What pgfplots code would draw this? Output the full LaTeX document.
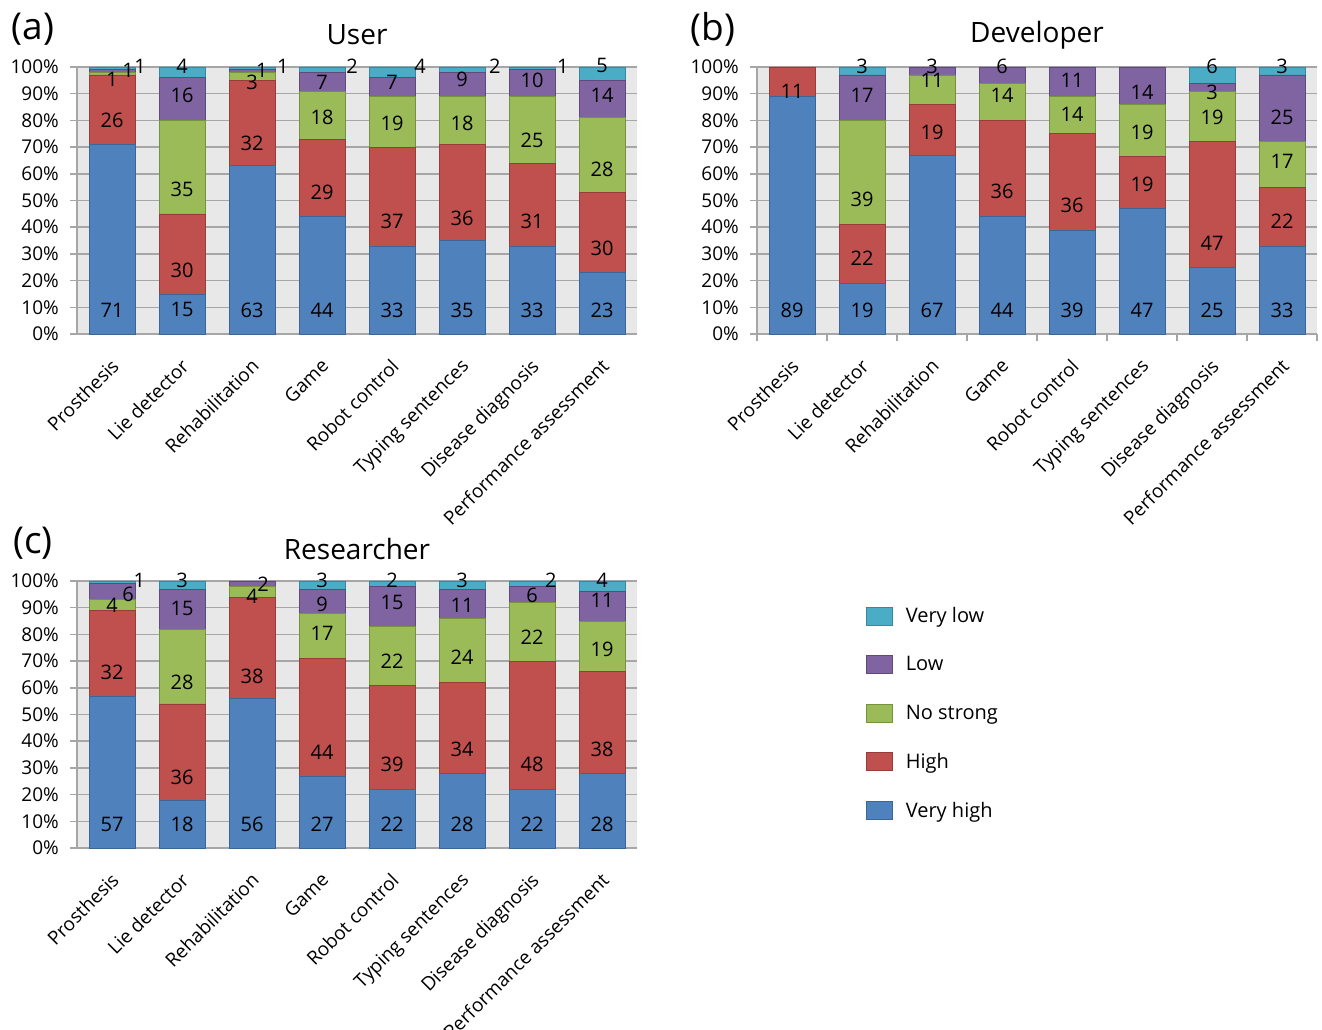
\documentclass[border=0pt]{standalone}
\usepackage{pgfplots}
\pgfplotsset{compat=1.18}
\usepackage{fontspec}
\setmainfont{Open Sans}
\definecolor{cblue}{HTML}{4F81BD}
\definecolor{cblueD}{HTML}{3A6594}
\definecolor{cred}{HTML}{C0504D}
\definecolor{credD}{HTML}{963C3A}
\definecolor{cgreen}{HTML}{9BBB59}
\definecolor{cgreenD}{HTML}{76923C}
\definecolor{cpurple}{HTML}{8064A2}
\definecolor{cpurpleD}{HTML}{5F4A7A}
\definecolor{cteal}{HTML}{4BACC6}
\definecolor{ctealD}{HTML}{3787A0}
\definecolor{bgc}{HTML}{E8E8E8}
\definecolor{gridc}{HTML}{A6A6A6}

\pgfplotstableread{
x y t
0 9 71
0 80.1 26
0 95.5 1
0.23 98.9 1
0.4 100.4 1
1 9 15
1 24 30
1 54 35
1 89.5 16
1 100.4 4
2 9 63
2 71.5 32
2 94.4 3
2.14 98.9 1
2.44 100.4 1
3 9 44
3 53.2 29
3 81.3 18
3 94.4 7
3.43 100.4 2
4 9 33
4 42 37
4 79 19
4 94.4 7
4.4 100.4 4
5 9 35
5 43.4 36
5 79 18
5 95.5 9
5.47 100.4 2
6 9 33
6 42 31
6 72.7 25
6 95.1 10
6.44 100.4 1
7 9 23
7 32.2 30
7 61.8 28
7 89.5 14
7 100.4 5
}\labA
\pgfplotstableread{
x y t
0 9 89
0 91 11
1 9 19
1 28.5 22
1 50.6 39
1 89.5 17
1 100.4 3
2 9 67
2 75.7 19
2 95.1 11
2 100.4 3
3 9 44
3 53.6 36
3 89.5 14
3 100.4 6
4 9 39
4 48 36
4 82.4 14
4 95.1 11
5 9 47
5 56.2 19
5 75.7 19
5 90.6 14
6 9 25
6 34 47
6 81 19
6 90.6 3
6 100.4 6
7 9 33
7 42.3 22
7 64.8 17
7 81.3 25
7 100.4 3
}\labB
\pgfplotstableread{
x y t
0 9 57
0 65.9 32
0 91 4
0.23 95.1 6
0.39 100.4 1
1 9 18
1 26.6 36
1 62.2 28
1 89.9 15
1 100.4 3
2 9 56
2 64.4 38
2 94.4 4
2.16 98.9 2
3 9 27
3 36 44
3 80.3 17
3 91.4 9
3 100.4 3
4 9 22
4 31.5 39
4 70 22
4 92 15
4 100.4 2
5 9 28
5 37 34
5 71.5 24
5 91 11
5 100.4 3
6 9 22
6 31.5 48
6 79 22
6 94.8 6
6.27 100.4 2
7 9 28
7 37 38
7 74.5 19
7 92.9 11
7 100.4 4
}\labC

\pgfplotsset{
  panel/.style={
    anchor=south west, width=560pt, height=267pt, scale only axis,
    xmin=-0.5, xmax=7.5, ymin=0, ymax=100, clip=false,
  },
  barpanel/.style={
    panel, ybar stacked, bar width=46pt,
    axis background/.style={fill=bgc},
    axis x line*=bottom, axis y line*=left,
    axis line style={gridc, line width=1.5pt},
    ytick={0,10,...,100},
    yticklabel={\pgfmathprintnumber{\tick}\%},
    /pgf/number format/assume math mode=true,
    ymajorgrids, grid style={gridc, line width=1.5pt},
    tick align=outside, major tick length=7pt,
    ytick style={gridc, line width=1.5pt},
    xtick={0,...,7},
    xticklabels={Prosthesis, Lie detector, Rehabilitation, Game, Robot control, Typing sentences, Disease diagnosis, Performance assessment},
    xtick style={draw=none},
    x tick label style={rotate=45, anchor=north east, font=\fontsize{19}{22}\selectfont, inner sep=0pt, xshift=-13pt, yshift=-10pt},
    y tick label style={font=\fontsize{19}{22}\selectfont, inner sep=0pt, xshift=-11pt},
  },
  labpanel/.style={
    panel, hide axis,
    nodes near coords, point meta=explicit symbolic,
    nodes near coords style={anchor=center, inner sep=0pt, font=\fontsize{20}{22}\selectfont},
  },
  pblue/.style={fill=cblue, draw=cblueD, line width=0.6pt},
  pred/.style={fill=cred, draw=credD, line width=0.6pt},
  pgreen/.style={fill=cgreen, draw=cgreenD, line width=0.6pt},
  ppurple/.style={fill=cpurple, draw=cpurpleD, line width=0.6pt},
  pteal/.style={fill=cteal, draw=ctealD, line width=0.6pt},
}

\begin{document}
\begin{tikzpicture}
\useasboundingbox (0,0) rectangle (1322pt,1030pt);

% ---------------- (a) User
\begin{axis}[barpanel, at={(77pt,696pt)}]
\addplot[pblue] coordinates {(0,71) (1,15) (2,63) (3,44) (4,33) (5,35) (6,33) (7,23)};
\addplot[pred] coordinates {(0,26) (1,30) (2,32) (3,29) (4,37) (5,36) (6,31) (7,30)};
\addplot[pgreen] coordinates {(0,1) (1,35) (2,3) (3,18) (4,19) (5,18) (6,25) (7,28)};
\addplot[ppurple] coordinates {(0,1) (1,16) (2,1) (3,7) (4,7) (5,9) (6,10) (7,14)};
\addplot[pteal] coordinates {(0,1) (1,4) (2,1) (3,2) (4,4) (5,2) (6,1) (7,5)};
\end{axis}
\begin{axis}[labpanel, at={(77pt,696pt)}]
\addplot[draw=none, mark=none] table[x=x, y=y, meta=t] {\labA};
\end{axis}

% ---------------- (b) Developer
\begin{axis}[barpanel, at={(757pt,696pt)},
  extra x ticks={-0.5,0.5,...,7.5}, extra x tick labels={},
  extra x tick style={xtick style={draw=gridc, line width=1.5pt}}]
\addplot[pblue] coordinates {(0,89) (1,19) (2,67) (3,44) (4,39) (5,47) (6,25) (7,33)};
\addplot[pred] coordinates {(0,11) (1,22) (2,19) (3,36) (4,36) (5,19.5) (6,47) (7,22)};
\addplot[pgreen] coordinates {(0,0) (1,39) (2,11) (3,14) (4,14) (5,19.5) (6,19) (7,17)};
\addplot[ppurple] coordinates {(0,0) (1,17) (2,3) (3,6) (4,11) (5,14) (6,3) (7,25)};
\addplot[pteal] coordinates {(0,0) (1,3) (2,0) (3,0) (4,0) (5,0) (6,6) (7,3)};
\end{axis}
\begin{axis}[labpanel, at={(757pt,696pt)}]
\addplot[draw=none, mark=none] table[x=x, y=y, meta=t] {\labB};
\end{axis}

% ---------------- (c) Researcher
\begin{axis}[barpanel, at={(77pt,182pt)},
  legend style={at={(axis description cs:1.409,0.905)}, anchor=north west, draw=none, fill=none,
    font=\fontsize{20}{22}\selectfont, row sep=30pt, inner sep=0pt,
    nodes={inner sep=0pt, anchor=west},
    /tikz/every odd column/.append style={column sep=13pt}},
  legend image code/.code={\draw[#1] (0pt,-9pt) rectangle (26pt,9pt);},
  reverse legend, legend cell align=left]
\addplot[pblue] coordinates {(0,57) (1,18) (2,56) (3,27) (4,22) (5,28) (6,22) (7,28)};
\addplot[pred] coordinates {(0,32) (1,36) (2,38) (3,44) (4,39) (5,34) (6,48) (7,38)};
\addplot[pgreen] coordinates {(0,4) (1,28) (2,4) (3,17) (4,22) (5,24) (6,22) (7,19)};
\addplot[ppurple] coordinates {(0,6) (1,15) (2,2) (3,9) (4,15) (5,11) (6,6) (7,11)};
\addplot[pteal] coordinates {(0,1) (1,3) (2,0) (3,3) (4,2) (5,3) (6,2) (7,4)};
\legend{Very high, High, No strong, Low, Very low}
\end{axis}
\begin{axis}[labpanel, at={(77pt,182pt)}]
\addplot[draw=none, mark=none] table[x=x, y=y, meta=t] {\labC};
\end{axis}

% titles
\node[font=\fontsize{28}{32}\selectfont] at (357pt,995pt) {User};
\node[font=\fontsize{28}{32}\selectfont] at (1037pt,995pt) {Developer};
\node[font=\fontsize{28}{32}\selectfont] at (357pt,481pt) {Researcher};
\node[font=\fontsize{37}{40}\selectfont] at (33pt,1001pt) {(a)};
\node[font=\fontsize{37}{40}\selectfont] at (713pt,1001pt) {(b)};
\node[font=\fontsize{37}{40}\selectfont] at (33pt,487pt) {(c)};
\end{tikzpicture}
\end{document}
